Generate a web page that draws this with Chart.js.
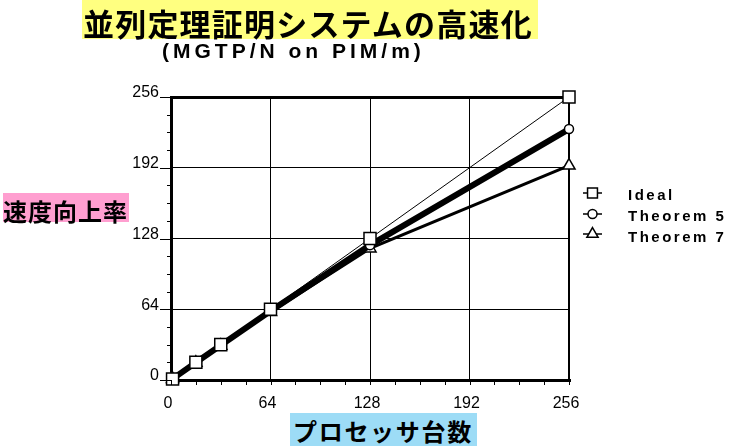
<!DOCTYPE html>
<html>
<head>
<meta charset="utf-8">
<script src="https://cdn.jsdelivr.net/npm/chart.js@4/dist/chart.umd.min.js"></script>
<style>
  body { margin: 0; background: #fff; }
  #wrap { position: relative; width: 731px; height: 446px; overflow: hidden; }
  #chart { position: absolute; left: 0; top: 0; }
  .lbl { position: absolute; white-space: nowrap; color: #000; }
  #title { left: 82px; top: 0; width: 456px; height: 39px; line-height: 32px; padding-left: 1px; box-sizing: border-box;
           background: #ffff80; font: bold 31px "Noto Sans CJK JP"; letter-spacing: 1.2px; }
  #subtitle { left: 162px; top: 39px; line-height: 21px; font: bold 21px "Liberation Sans"; letter-spacing: 4px; }
  #ytitle { left: 3px; top: 193px; width: 126px; height: 29px; line-height: 27px; background: #ff9fd0;
            font: bold 24px "Noto Sans CJK JP"; letter-spacing: 1px; }
  #xtitle { left: 290px; top: 413px; width: 187px; height: 33px; line-height: 31px; padding-left: 3px; box-sizing: border-box;
            background: #9ddcf6; font: bold 24px "Noto Sans CJK JP"; letter-spacing: 1.7px; }
</style>
</head>
<body>
<div id="wrap">
  <canvas id="chart" width="731" height="446"></canvas>
  <div class="lbl" id="title">並列定理証明システムの高速化</div>
  <div class="lbl" id="subtitle">(MGTP/N on PIM/m)</div>
  <div class="lbl" id="ytitle">速度向上率</div>
  <div class="lbl" id="xtitle">プロセッサ台数</div>
</div>
<script>
  // number of processors and speedup values
  const procs = [1, 16, 32, 64, 128, 256];
  const ideal = [1, 16, 32, 64, 128, 256];
  const theorem5 = [1, 15.8, 31.5, 62.5, 122, 227];
  const theorem7 = [1, 15.6, 31, 61.5, 119, 194];
  const seriesNames = ['Ideal', 'Theorem 5', 'Theorem 7'];
  const axisMax = 256;
  const majorStep = 64;
  const minorStep = 16;

  const styles = [
    { pointStyle: 'rect', radius: 8.5, legendRadius: 7, line: 1 },
    { pointStyle: 'circle', radius: 4.5, legendRadius: 4.5, line: 6 },
    { pointStyle: 'triangle', radius: 7, legendRadius: 6.5, line: 3 }
  ];

  function toPoints(values) {
    return procs.map(function(p, i) { return { x: p, y: values[i] }; });
  }

  // minor ticks on both axes
  const minorTicks = {
    id: 'minorTicks',
    afterDraw: function(chart) {
      const ctx = chart.ctx;
      const xs = chart.scales.x, ys = chart.scales.y;
      const area = chart.chartArea;
      ctx.save();
      ctx.strokeStyle = '#000';
      ctx.lineWidth = 1;
      for (let v = 0; v <= axisMax; v += minorStep) {
        const py = Math.round(ys.getPixelForValue(v)) + 0.5;
        const len = v % majorStep === 0 ? 11 : 4;
        ctx.beginPath();
        ctx.moveTo(area.left - len, py);
        ctx.lineTo(area.left, py);
        ctx.stroke();
        const px = Math.round(xs.getPixelForValue(v)) + 0.5;
        ctx.beginPath();
        ctx.moveTo(px, area.bottom);
        ctx.lineTo(px, area.bottom + 5);
        ctx.stroke();
      }
      ctx.restore();
    }
  };

  // legend drawn at the right of the plot
  const sideLegend = {
    id: 'sideLegend',
    afterDraw: function(chart) {
      const ctx = chart.ctx;
      const iconY = [193, 214, 234];
      const textY = [196, 217, 238];
      ctx.save();
      seriesNames.forEach(function(name, i) {
        ctx.strokeStyle = '#000';
        ctx.lineWidth = 1.5;
        ctx.beginPath();
        ctx.moveTo(583, iconY[i]);
        ctx.lineTo(602, iconY[i]);
        ctx.stroke();
        ctx.fillStyle = '#fff';
        Chart.helpers.drawPoint(ctx, {
          pointStyle: styles[i].pointStyle,
          radius: styles[i].legendRadius,
          rotation: 0,
          borderWidth: 1.5
        }, 592.5, iconY[i]);
        ctx.fillStyle = '#000';
        ctx.font = 'bold 15px "Liberation Sans"';
        ctx.letterSpacing = '2.5px';
        ctx.textBaseline = 'middle';
        ctx.fillText(name, 628, textY[i]);
      });
      ctx.restore();
    }
  };

  const datasets = [ideal, theorem5, theorem7].map(function(values, i) {
    return {
      label: seriesNames[i],
      data: toPoints(values),
      borderColor: '#000',
      borderWidth: styles[i].line,
      pointStyle: styles[i].pointStyle,
      pointRadius: styles[i].radius,
      pointBackgroundColor: '#fff',
      pointBorderColor: '#000',
      pointBorderWidth: 1.5,
      tension: 0,
      clip: false
    };
  });

  new Chart(document.getElementById('chart'), {
    type: 'line',
    data: { datasets: datasets },
    options: {
      responsive: false,
      animation: false,
      layout: { padding: { left: 131, right: 162, top: 97, bottom: 36 } },
      plugins: {
        legend: { display: false },
        tooltip: { enabled: false }
      },
      scales: {
        x: {
          type: 'linear',
          min: 0,
          max: axisMax,
          afterFit: function(scale) { scale.height = 30; },
          ticks: {
            stepSize: majorStep,
            color: '#000',
            padding: 14,
            labelOffset: -3,
            font: { family: 'Liberation Sans', size: 16 }
          },
          grid: {
            drawTicks: false,
            color: '#000',
            lineWidth: function(c) {
              if (c.tick && c.tick.value === axisMax) return 2;
              if (c.tick && c.tick.value === 0) return 3;
              return 1;
            }
          },
          border: { color: '#000', width: 3 }
        },
        y: {
          min: 0,
          max: axisMax,
          afterFit: function(scale) { scale.width = 40; },
          ticks: {
            stepSize: majorStep,
            color: '#000',
            padding: 12,
            labelOffset: -4,
            font: { family: 'Liberation Sans', size: 16 }
          },
          grid: {
            drawTicks: false,
            color: '#000',
            lineWidth: function(c) {
              if (c.tick && (c.tick.value === axisMax || c.tick.value === 0)) return 3;
              return 1;
            }
          },
          border: { color: '#000', width: 3 }
        }
      }
    },
    plugins: [minorTicks, sideLegend]
  });
</script>
</body>
</html>
